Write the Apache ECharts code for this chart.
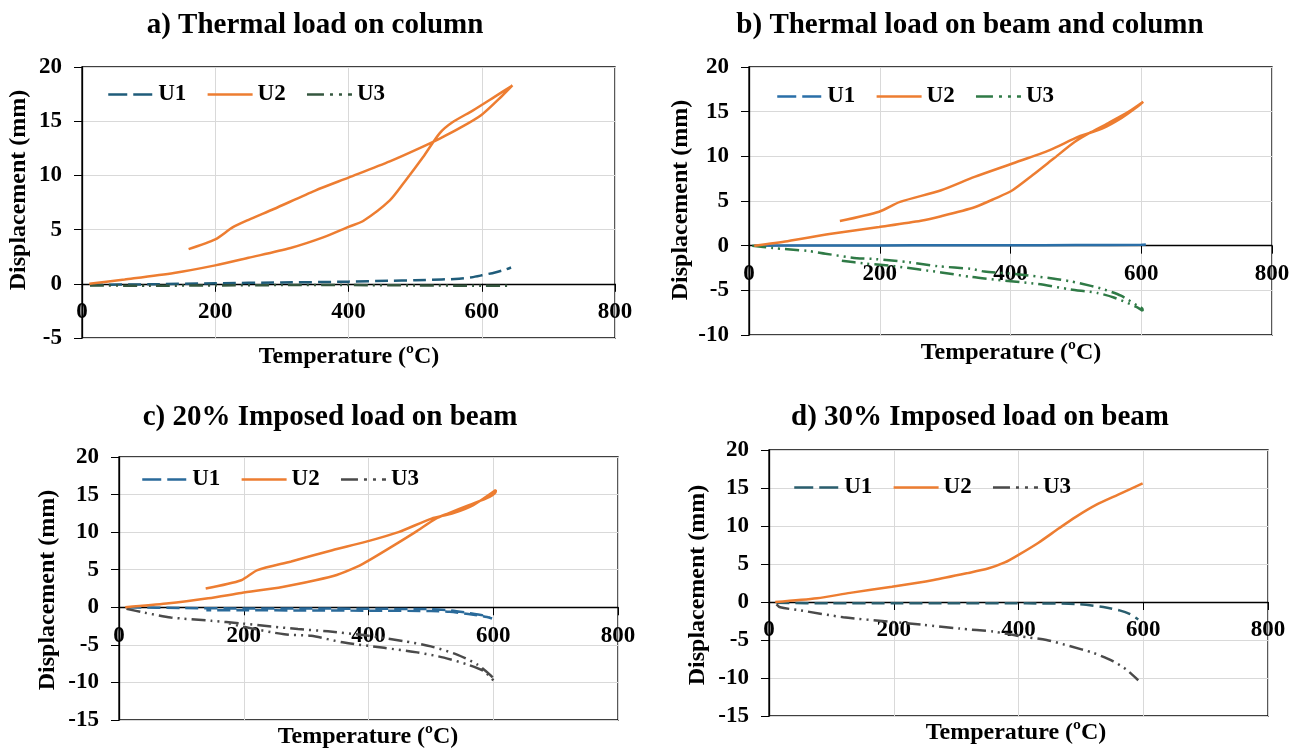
<!DOCTYPE html>
<html><head><meta charset="utf-8">
<script src="https://cdn.jsdelivr.net/npm/echarts@6/dist/echarts.min.js"></script>
<style>html,body{margin:0;padding:0;background:#fff}#c{width:1306px;height:751px}</style>
</head><body><div id="c"></div>
<script>
// ---------- data (Temperature °C, Displacement mm) ----------
const panelTitles = ['a) Thermal load on column','b) Thermal load on beam and column','c) 20% Imposed load on beam','d) 30% Imposed load on beam'];
const seriesNames = ['U1','U2','U3'];
const xTicks = {min:0, max:800, interval:200};
const yRanges = [[-5,20],[-10,20],[-15,20],[-15,20]];

const aU1 = [[12,-0.1],[100,-0.05],[200,0.05],[300,0.12],[400,0.2],[460,0.28],[500,0.32],[540,0.4],[560,0.45],[585,0.6],[600,0.78],[620,1.05],[635,1.3],[644,1.5]];
const aU2 = [[11,0],[64,0.4],[138,1.0],[200,1.7],[250,2.4],[313,3.3],[363,4.3],[400,5.25],[422,5.8],[462,7.7],[484,9.4],[512,11.7],[537,13.9],[556,14.9],[587,16.0],[618,17.2],[646,18.3],
             [630,17.3],[600,15.6],[568,14.4],[537,13.4],[506,12.5],[462,11.3],[400,9.8],[350,8.6],[288,6.9],[250,5.9],[226,5.2],[200,4.1],[160,3.2]];
const aU3 = [[12,-0.15],[100,-0.18],[200,-0.15],[300,-0.12],[400,-0.12],[500,-0.15],[600,-0.18],[640,-0.18]];

const bU1 = [[8,0],[100,0.02],[200,0.03],[300,0.05],[400,0.05],[500,0.07],[600,0.1],[607,0.12]];
const bU2 = [[8,0],[59,0.5],[123,1.3],[199,2.1],[263,2.8],[294,3.3],[345,4.3],[377,5.3],[403,6.2],[434,7.9],[466,9.75],[498,11.6],[523,12.7],[549,13.7],[581,15.0],[603,16.1],
             [595,15.6],[570,14.3],[540,13.1],[504,12.2],[460,10.7],[403,9.2],[345,7.7],[294,6.2],[231,4.9],[199,3.8],[139,2.76]];
const bU3 = [[5,0],[36,-0.26],[91,-0.6],[117,-0.9],[165,-1.4],[193,-1.5],[244,-1.85],[289,-2.3],[340,-2.6],[360,-2.9],[411,-3.2],[467,-3.7],[492,-4.0],[523,-4.5],[543,-4.9],[569,-5.6],[594,-6.7],[602,-7.1],
             [602,-7.3],[594,-6.9],[558,-5.8],[533,-5.3],[492,-4.9],[442,-4.3],[376,-3.8],[340,-3.5],[294,-3.0],[223,-2.3],[178,-2.0],[142,-1.7]];

const cU1 = [[15,0],[100,-0.1],[200,-0.15],[300,-0.15],[400,-0.2],[500,-0.25],[530,-0.4],[560,-0.75],[585,-1.1],[598,-1.5],
             [590,-1.3],[560,-0.9],[530,-0.6],[500,-0.5],[400,-0.45],[300,-0.42],[200,-0.4],[140,-0.38]];
const cU2 = [[10,0],[76,0.5],[143,1.2],[196,1.9],[262,2.7],[315,3.6],[349,4.3],[382,5.4],[402,6.3],[442,8.3],[475,10.0],[508,11.8],[528,12.5],[561,13.6],[594,14.7],[604,15.4],
             [604,15.6],[568,13.6],[535,12.5],[501,11.8],[448,10.0],[395,8.7],[342,7.6],[276,6.1],[222,4.95],[196,3.6],[139,2.5]];
const cU3 = [[12,-0.2],[40,-0.7],[83,-1.35],[148,-1.8],[196,-2.15],[244,-2.55],[287,-2.9],[335,-3.2],[392,-3.7],[456,-4.5],[500,-5.2],[542,-6.3],[574,-7.6],[595,-9.0],[601,-9.6],
             [601,-9.8],[585,-8.5],[558,-7.6],[521,-6.7],[478,-6.0],[425,-5.4],[361,-4.7],[308,-3.8],[265,-3.6],[200,-2.6],[170,-2.0]];

const dU1 = [[12,-0.1],[100,-0.18],[199,-0.18],[300,-0.18],[413,-0.18],[493,-0.27],[536,-0.67],[562,-1.1],[579,-1.6],[592,-2.3]];
const dU2 = [[10,0],[77,0.5],[130,1.2],[197,2.0],[264,2.9],[318,3.8],[351,4.4],[378,5.2],[400,6.2],[432,7.8],[465,9.7],[492,11.2],[525,12.8],[559,14.1],[599,15.6]];
const dU3 = [[12,-0.3],[18,-0.7],[50,-1.1],[119,-2.0],[194,-2.6],[247,-3.0],[306,-3.5],[360,-3.9],[402,-4.5],[445,-5.0],[482,-5.8],[520,-6.7],[552,-7.8],[573,-8.9],[592,-10.3]];

const panelData = [[aU1,aU2,aU3],[bU1,bU2,bU3],[cU1,cU2,cU3],[dU1,dU2,dU3]];

// ---------- styling / layout ----------
const FONT = "'Liberation Serif','Times New Roman',serif";
const grids = [
  {left:82, top:67, width:533, height:271},
  {left:749, top:67, width:523, height:268},
  {left:119, top:457, width:499, height:263},
  {left:769, top:450, width:499, height:266}
];
const colors = [
  ['#1f5c7a','#ed7d31','#35573f'],
  ['#2a6fa8','#ed7d31','#2f7a46'],
  ['#2a6a9a','#ed7d31','#4a4a4a'],
  ['#2a5e6e','#ed7d31','#4a4a4a']
];
const U1dash = [13,6], U3dash = [14,5,2,5,2,5];
const seriesDash = [[U1dash,'solid',U3dash],['solid','solid',U3dash],[U1dash,'solid',U3dash],[U1dash,'solid',U3dash]];
const legendDash = [[19,6],'solid',[17,6,3,6,3,6]];
const legendPos = [{left:107, top:83},{left:776, top:85},{left:141, top:468},{left:793, top:476}];
const titlePos = [[315,26],[970,26],[330,418],[980,418]];
const xNamePos = [[349,357],[1011,353],[368,737],[1016,733]];
const yNamePos = [[19,190],[681,200],[48,590],[698,585]];
const prefixes = ['a','b','c','d'];

// offset of the x axis so that it sits on the zero line
function zeroOffset(i){
  const g = grids[i], r = yRanges[i];
  const zeroPx = g.top + (r[1]-0)/(r[1]-r[0])*g.height;
  return -((g.top+g.height) - zeroPx);
}

const option = {
  animation:false,
  backgroundColor:'#fff',
  grid: grids.map(g => Object.assign({show:true, borderColor:'#000', borderWidth:1.3, backgroundColor:'transparent'}, g)),
  xAxis: grids.map((g,i) => ({
    type:'value', gridIndex:i, min:xTicks.min, max:xTicks.max, interval:xTicks.interval,
    position:'bottom', offset: zeroOffset(i),
    axisLine:{show:true, onZero:false, lineStyle:{color:'#000', width:1.3}},
    axisTick:{show:true, inside:false, length:8, lineStyle:{color:'#000'}},
    axisLabel:{margin:17, fontFamily:FONT, fontWeight:'bold', fontSize:23, color:'#000', showMinLabel:true, showMaxLabel:true},
    splitLine:{show:true, lineStyle:{color:'#d9d9d9', width:1}}
  })),
  yAxis: grids.map((g,i) => ({
    type:'value', gridIndex:i, min:yRanges[i][0], max:yRanges[i][1], interval:5,
    axisLine:{show:true, onZero:false, lineStyle:{color:'#000', width:1.3}},
    axisTick:{show:true, inside:false, length:8, lineStyle:{color:'#000'}},
    axisLabel:{margin:20, fontFamily:FONT, fontWeight:'bold', fontSize:23, color:'#000'},
    splitLine:{show:true, lineStyle:{color:'#d9d9d9', width:1}}
  })),
  legend: grids.map((g,i) => ({
    left:legendPos[i].left, top:legendPos[i].top, padding:0, itemGap:20, itemWidth:45, itemHeight:14,
    data: seriesNames.map((n,j) => ({name: prefixes[i]+n, lineStyle:{type:legendDash[j], width:2.5}})),
    formatter: name => name.slice(1),
    itemStyle:{opacity:0},
    textStyle:{fontFamily:FONT, fontWeight:'bold', fontSize:23, color:'#000'},
    selectedMode:false
  })),
  series: [],
  graphic: []
};

panelData.forEach((arr,i) => {
  arr.forEach((d,j) => {
    option.series.push({
      name: prefixes[i]+seriesNames[j], type:'line', xAxisIndex:i, yAxisIndex:i,
      data:d, showSymbol:false, symbol:'none', smooth:0.25,
      color: colors[i][j],
      lineStyle:{color:colors[i][j], width:2.5, type:seriesDash[i][j]},
      z: j===1 ? 3 : 2
    });
  });
});

function txt(x,y,text,size,rot){
  return {type:'text', x:x, y:y, rotation:rot||0, z:10,
    style:{text:text, font:'bold '+size+'px '+FONT, fill:'#000',
      textAlign:'center', textVerticalAlign:'middle', align:'center', verticalAlign:'middle'}};
}
panelTitles.forEach((t,i) => option.graphic.push(txt(titlePos[i][0], titlePos[i][1], t, 29)));
xNamePos.forEach(p => option.graphic.push(txt(p[0], p[1], 'Temperature (ºC)', 24)));
yNamePos.forEach(p => option.graphic.push(txt(p[0], p[1], 'Displacement (mm)', 24, Math.PI/2)));

const chart = echarts.init(document.getElementById('c'), null, {renderer:'canvas'});
chart.setOption(option);
</script>
</body></html>
